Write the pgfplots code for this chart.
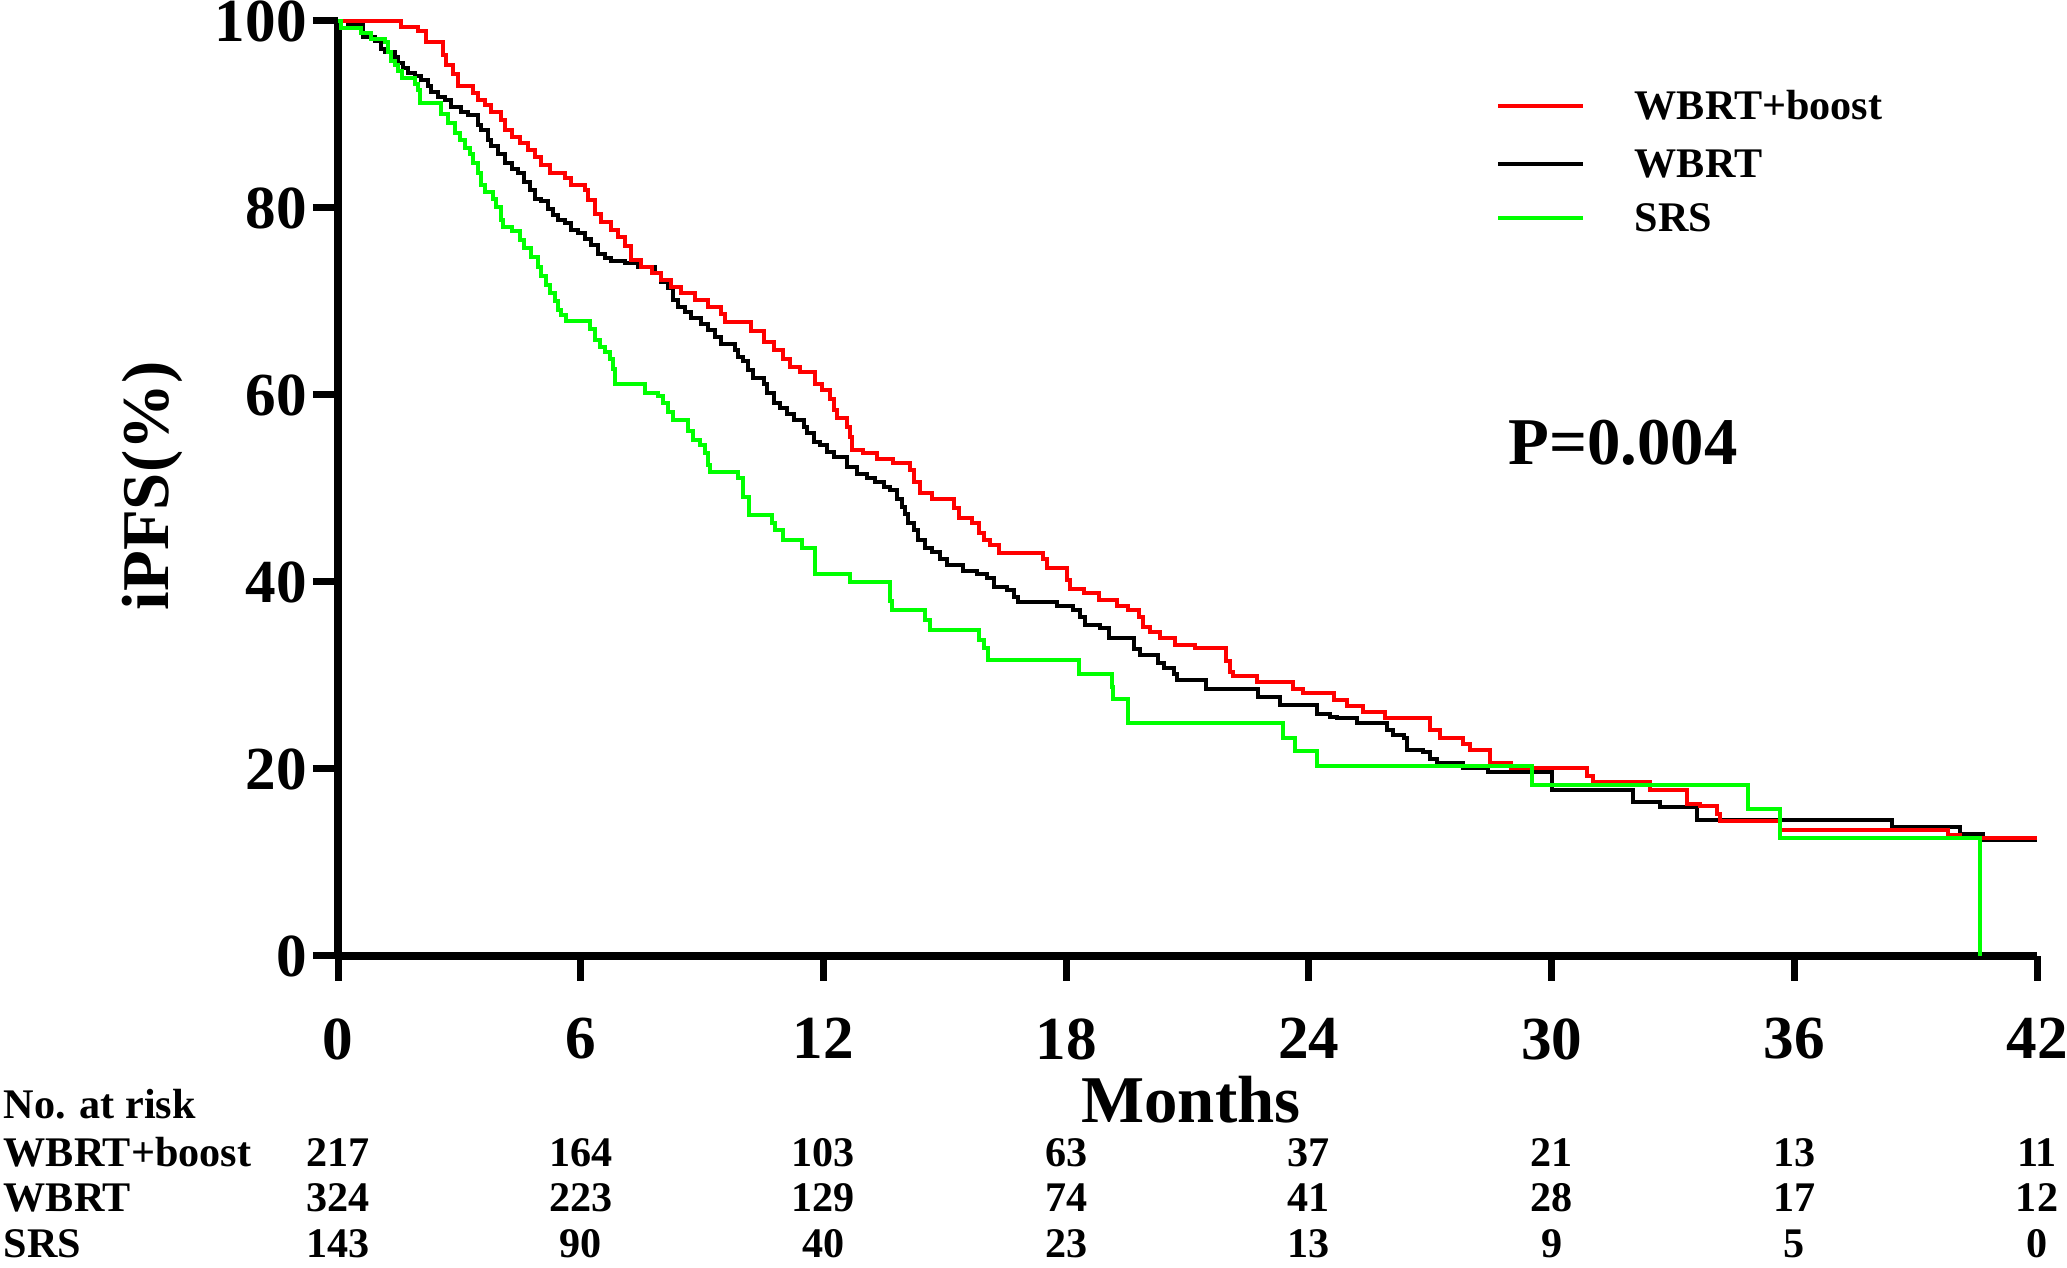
\documentclass[border=0pt]{standalone}
\usepackage{fontspec}
\setmainfont{Liberation Serif}
\usepackage{pgfplots}
\pgfplotsset{compat=1.18}
\definecolor{kmred}{RGB}{255,0,0}
\definecolor{kmgreen}{RGB}{0,255,0}
\begin{document}
\begin{tikzpicture}[x=1mm,y=1mm]
\begin{axis}[
  at={(33.8mm,31.2mm)}, anchor=south west,
  scale only axis, width=169.9mm, height=93.5mm,
  xmin=0, xmax=42, ymin=0, ymax=100,
  axis lines=left,
  axis line style={-, line width=0.8mm, black},
  xtick={0,6,...,42}, ytick={0,20,...,100},
  tick align=outside, major tick length=2.5mm,
  tick style={line width=0.7mm, black},
  /pgf/number format/assume math mode=true,
  ticklabel style={font=\fontsize{17.4}{20}\selectfont\bfseries},
  xticklabel style={yshift=-2.5mm},
  yticklabel style={xshift=0.6mm},
  clip=false,
]
\addplot[black, line width=0.4mm, const plot] coordinates {
(0,100) (0.25,99.6) (0.62,98.3) (0.91,97.9) (1.07,97.0) (1.15,96.7) (1.40,96.1)
(1.48,95.5) (1.61,95.0) (1.73,94.4) (1.90,94.1) (2.06,93.7) (2.22,93.0) (2.31,92.4)
(2.47,91.9) (2.64,91.6) (2.80,90.8) (3.05,90.3) (3.21,89.9) (3.46,88.9) (3.54,88.3)
(3.71,87.3) (3.79,86.6) (3.96,85.8) (4.12,84.8) (4.29,84.2) (4.45,83.7) (4.61,82.8)
(4.74,81.9) (4.86,81.0) (5.03,80.7) (5.19,79.9) (5.32,79.2) (5.44,78.7) (5.60,78.4)
(5.77,77.6) (5.93,77.3) (6.10,76.7) (6.26,76.0) (6.43,75.1) (6.59,74.6) (6.76,74.3)
(7.09,74.1) (7.42,73.7) (7.83,73.0) (7.99,72.1) (8.16,71.4) (8.28,70.2) (8.41,69.4)
(8.57,68.9) (8.73,68.2) (8.98,67.6) (9.15,66.9) (9.31,66.2) (9.48,65.5) (9.81,64.8)
(9.89,64.1) (10.01,63.6) (10.14,62.7) (10.27,61.8) (10.52,61.2) (10.60,60.2)
(10.77,59.1) (10.93,58.6) (11.10,58.0) (11.26,57.3) (11.51,56.6) (11.59,55.9)
(11.76,55.0) (11.92,54.7) (12.09,53.9) (12.25,53.4) (12.58,52.3) (12.83,51.6)
(13.07,51.1) (13.28,50.7) (13.49,50.2) (13.65,49.8) (13.82,48.9) (13.94,48.0)
(14.02,47.3) (14.10,46.3) (14.23,45.6) (14.35,44.5) (14.52,43.6) (14.68,43.2)
(14.89,42.5) (15.05,41.8) (15.46,41.2) (15.79,40.9) (16.04,40.4) (16.21,39.5)
(16.54,39.1) (16.70,38.4) (16.82,37.9) (17.77,37.4) (18.18,37.0) (18.35,36.3)
(18.47,35.4) (18.84,35.1) (19.05,34.0) (19.67,32.8) (19.83,32.2) (20.28,31.3)
(20.41,30.8) (20.66,30.2) (20.74,29.5) (21.45,28.6) (22.75,27.7) (23.29,26.8)
(24.19,25.9) (24.52,25.6) (24.69,25.4) (25.18,24.9) (25.92,24.2) (26.09,23.6)
(26.34,23.3) (26.42,22.0) (26.83,21.8) (26.99,21.1) (27.16,20.6) (27.82,20.1)
(28.44,19.7) (30.02,17.8) (32.02,16.5) (32.68,15.9) (33.59,14.5) (38.41,13.8)
(40.10,13.1) (40.67,12.4) (42.0,12.4)
};
\addplot[kmred, line width=0.4mm, const plot] coordinates {
(0,100) (1.55,99.4) (1.98,98.9) (2.18,97.8) (2.60,96.4) (2.68,95.3) (2.84,94.3)
(2.97,93.0) (3.34,92.3) (3.46,91.6) (3.63,91.0) (3.79,90.3) (4.04,89.4) (4.12,88.3)
(4.29,87.6) (4.49,86.9) (4.70,86.2) (4.86,85.5) (5.03,84.6) (5.23,83.7) (5.60,83.2)
(5.77,82.5) (6.10,81.9) (6.18,80.9) (6.35,79.4) (6.51,78.5) (6.76,77.6) (6.92,76.9)
(7.09,75.9) (7.25,74.4) (7.50,73.7) (7.75,73.0) (7.99,72.3) (8.24,71.6) (8.49,70.9)
(8.82,70.2) (9.15,69.4) (9.48,68.7) (9.56,67.8) (10.22,66.8) (10.52,65.7)
(10.77,64.8) (11.01,63.9) (11.18,63.0) (11.43,62.5) (11.80,61.2) (11.96,60.5)
(12.17,59.6) (12.25,58.4) (12.33,57.5) (12.58,56.6) (12.66,55.5) (12.70,54.1)
(12.99,53.8) (13.32,53.1) (13.73,52.7) (14.15,52.0) (14.23,50.7) (14.39,49.5)
(14.68,48.9) (15.22,47.9) (15.34,46.8) (15.67,46.3) (15.84,45.2) (15.96,44.5)
(16.12,44.0) (16.33,43.1) (17.44,42.5) (17.52,41.5) (18.02,40.2) (18.10,39.2)
(18.43,38.8) (18.80,38.1) (19.25,37.4) (19.54,37.0) (19.79,36.3) (19.91,35.2)
(20.08,34.7) (20.33,34.0) (20.70,33.3) (21.19,32.9) (21.95,31.5) (22.06,30.4)
(22.13,29.9) (22.71,29.3) (23.62,28.6) (23.86,28.1) (24.61,27.4) (24.94,26.7)
(25.35,26.1) (25.88,25.4) (27.00,24.2) (27.24,23.3) (27.82,22.7) (27.98,22.0)
(28.48,20.6) (29.00,20.1) (30.87,19.2) (31.03,18.6) (32.43,17.8) (33.34,16.3)
(33.67,16.0) (34.08,15.2) (34.16,14.4) (35.65,13.5) (39.81,12.9) (40.10,12.6)
(42.0,12.6)
};
\addplot[kmgreen, line width=0.4mm, const plot] coordinates {
(0,100) (0.08,99.2) (0.58,98.7) (0.82,98.1) (1.15,97.8) (1.24,96.7) (1.32,95.7)
(1.40,95.3) (1.48,94.6) (1.57,93.9) (1.90,93.3) (1.98,92.6) (2.02,91.2) (2.55,90.1)
(2.72,89.1) (2.88,88.0) (3.01,87.3) (3.13,86.4) (3.26,85.8) (3.34,84.8) (3.46,83.7)
(3.54,82.5) (3.63,81.7) (3.83,81.0) (3.91,80.1) (4.04,78.7) (4.08,78.0) (4.29,77.5)
(4.49,76.6) (4.61,75.7) (4.78,74.8) (4.94,73.7) (5.03,72.7) (5.15,71.8) (5.23,70.9)
(5.36,70.0) (5.44,69.1) (5.52,68.6) (5.64,67.9) (6.22,67.1) (6.35,65.9) (6.47,65.1)
(6.59,64.6) (6.72,63.9) (6.80,62.8) (6.84,61.2) (7.58,60.2) (7.91,59.9) (8.03,59.1)
(8.16,58.2) (8.28,57.3) (8.65,56.1) (8.78,55.2) (8.94,54.7) (9.06,53.8) (9.15,52.5)
(9.19,51.8) (9.89,51.1) (10.01,49.1) (10.15,47.2) (10.73,46.3) (10.81,45.6)
(11.01,44.5) (11.47,43.6) (11.80,40.9) (12.66,40.0) (13.65,38.0) (13.69,37.0)
(14.52,35.9) (14.64,34.9) (15.84,33.8) (15.96,32.9) (16.08,31.7) (18.31,30.2)
(19.13,28.8) (19.17,27.5) (19.54,24.9) (23.37,23.3) (23.66,21.9) (24.19,20.3)
(29.51,18.3) (34.86,15.7) (35.65,12.6) (40.59,0)
};
\end{axis}
% axis titles
\node[rotate=90, anchor=base, font=\fontsize{19}{22}\selectfont\bfseries] at (16.8,78.2) {iPFS(\%)};
\node[anchor=base, font=\fontsize{19}{22}\selectfont\bfseries] at (119.1,14.5) {Months};
\node[anchor=base west, font=\fontsize{19}{22}\selectfont\bfseries] at (149.6,80.3) {P=0.004};
% legend
\draw[kmred, line width=0.4mm] (149.8,116.2) -- (158.3,116.2);
\draw[black, line width=0.4mm] (149.8,110.4) -- (158.3,110.4);
\draw[kmgreen, line width=0.4mm] (149.8,105.0) -- (158.3,105.0);
\begin{scope}[every node/.style={anchor=base west, font=\fontsize{12}{14}\selectfont\bfseries, inner sep=0pt}]
\node at (163.4,114.8) {WBRT+boost};
\node at (163.4,109.0) {WBRT};
\node at (163.4,103.6) {SRS};
% risk table
\node at (0.3,14.9) {No. at risk};
\node at (0.3,10.1) {WBRT+boost};
\node at (0.3,5.6) {WBRT};
\node at (0.3,1.0) {SRS};
\end{scope}
\begin{scope}[every node/.style={anchor=base, font=\fontsize{12}{14}\selectfont\bfseries, inner sep=0pt}]
\foreach \v [count=\i from 0] in {217,164,103,63,37,21,13,11}
  \node at ({33.8+4.0452*6*\i},10.1) {\v};
\foreach \v [count=\i from 0] in {324,223,129,74,41,28,17,12}
  \node at ({33.8+4.0452*6*\i},5.6) {\v};
\foreach \v [count=\i from 0] in {143,90,40,23,13,9,5,0}
  \node at ({33.8+4.0452*6*\i},1.0) {\v};
\end{scope}
\pgfresetboundingbox
\useasboundingbox (0,0) rectangle (206.7,126.8);
\end{tikzpicture}
\end{document}
